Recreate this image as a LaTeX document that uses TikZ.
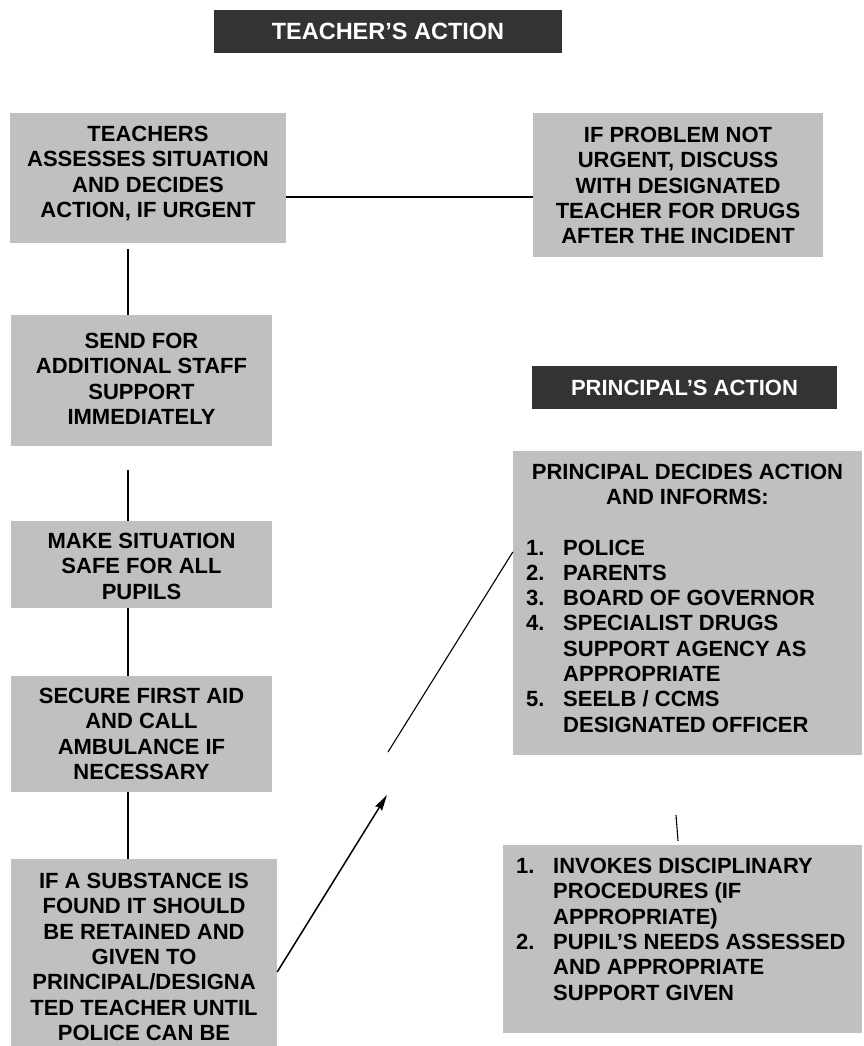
\documentclass[tikz,border=0pt]{standalone}
\usepackage{fontspec}
\setmainfont{Liberation Sans}
\usetikzlibrary{arrows.meta}
\definecolor{boxgray}{HTML}{C0C0C0}
\definecolor{headdark}{HTML}{333333}
\newcommand{\lnum}[1]{\makebox[37pt][l]{#1}}
\begin{document}
\begin{tikzpicture}[x=1pt,y=-1pt,
  box/.style={draw=none,fill=boxgray,rectangle,inner sep=0pt},
  head/.style={fill=headdark,text=white,inner sep=0pt,rectangle},
  txt/.style={inner sep=0pt,align=center,anchor=north,font=\bfseries\fontsize{22}{25.3}\selectfont},
  ltxt/.style={inner sep=0pt,align=left,anchor=north west,font=\bfseries\fontsize{22}{25.3}\selectfont},
  conn/.style={draw=black,line width=1.1pt},
  arr/.style={draw=black,line width=1.5pt,-{Stealth[length=16pt,width=8pt,inset=2pt]}}]
\useasboundingbox (0,0) rectangle (863,1046);
\clip (0,0) rectangle (863,1046);

% headers
\node[head,minimum width=348pt,minimum height=43pt,font=\bfseries\fontsize{23.5}{26}\selectfont] (h1) at (388,31.5) {TEACHER’S ACTION};
\node[head,minimum width=305pt,minimum height=43pt,font=\bfseries\fontsize{22}{26}\selectfont] (h2) at (684.5,387.5) {PRINCIPAL’S ACTION};

% boxes
\node[box,minimum width=276pt,minimum height=130pt] (b1) at (148,178) {};
\node[box,minimum width=290pt,minimum height=144pt] (b2) at (678,185) {};
\node[box,minimum width=261pt,minimum height=131pt] (b3) at (141.5,380.5) {};
\node[box,minimum width=261pt,minimum height=87pt] (b4) at (141.5,564.5) {};
\node[box,minimum width=261pt,minimum height=116pt] (b5) at (141.5,734) {};
\node[box,minimum width=266pt,minimum height=201pt] (b6) at (144,959.5) {};
\node[box,minimum width=349pt,minimum height=304pt] (b8) at (687.5,603) {};
\node[box,minimum width=359pt,minimum height=188pt] (b9) at (682.5,939) {};

% texts
\node[txt] (t1) at (148,126) {TEACHERS\\ASSESSES SITUATION\\AND DECIDES\\ACTION, IF URGENT};
\node[txt] (t2) at (678,127) {IF PROBLEM NOT\\URGENT, DISCUSS\\WITH DESIGNATED\\TEACHER FOR DRUGS\\AFTER THE INCIDENT};
\node[txt] (t3) at (141.5,333) {SEND FOR\\ADDITIONAL STAFF\\SUPPORT\\IMMEDIATELY};
\node[txt] (t4) at (141.5,533) {MAKE SITUATION\\SAFE FOR ALL\\PUPILS};
\node[txt] (t5) at (141.5,688) {SECURE FIRST AID\\AND CALL\\AMBULANCE IF\\NECESSARY};
\node[txt] (t6) at (144,873) {IF A SUBSTANCE IS\\FOUND IT SHOULD\\BE RETAINED AND\\GIVEN TO\\PRINCIPAL/DESIGNA\\TED TEACHER UNTIL\\POLICE CAN BE};
\node[txt] (t8a) at (687.5,464) {PRINCIPAL DECIDES ACTION\\AND INFORMS:};
\node[ltxt] (t8b) at (526,539.5) {\lnum{1.}POLICE\\\lnum{2.}PARENTS\\\lnum{3.}BOARD OF GOVERNOR\\\lnum{4.}SPECIALIST DRUGS\\\lnum{}SUPPORT AGENCY AS\\\lnum{}APPROPRIATE\\\lnum{5.}SEELB / CCMS\\\lnum{}DESIGNATED OFFICER};
\node[ltxt] (t9) at (516,858) {\lnum{1.}INVOKES DISCIPLINARY\\\lnum{}PROCEDURES (IF\\\lnum{}APPROPRIATE)\\\lnum{2.}PUPIL’S NEEDS ASSESSED\\\lnum{}AND APPROPRIATE\\\lnum{}SUPPORT GIVEN};

% connectors
\draw[conn] ([yshift=-19pt]b1.east) -- ([yshift=-12pt]b2.west);
\draw[conn] ([xshift=-20pt,yshift=-6pt]b1.south) coordinate (s1) -- (s1 |- b3.north);
\draw[conn] ([xshift=-13.5pt,yshift=-24pt]b3.south) coordinate (s2) -- (s2 |- b4.north);
\draw[conn] ([xshift=-13.5pt]b4.south) coordinate (s3) -- (s3 |- b5.north);
\draw[conn] ([xshift=-13.5pt]b5.south) coordinate (s4) -- (s4 |- b6.north);
\coordinate (a1) at (387,795);
\draw[arr] ([yshift=-12.5pt]b6.east) -- (a1);
\coordinate (a2) at (388,752);
\draw[conn] (a2) -- ([yshift=51pt]b8.west);
\coordinate (c1) at (676,815);
\draw[conn] (c1) -- ([xshift=-4.5pt,yshift=4pt]b9.north);
\end{tikzpicture}
\end{document}
